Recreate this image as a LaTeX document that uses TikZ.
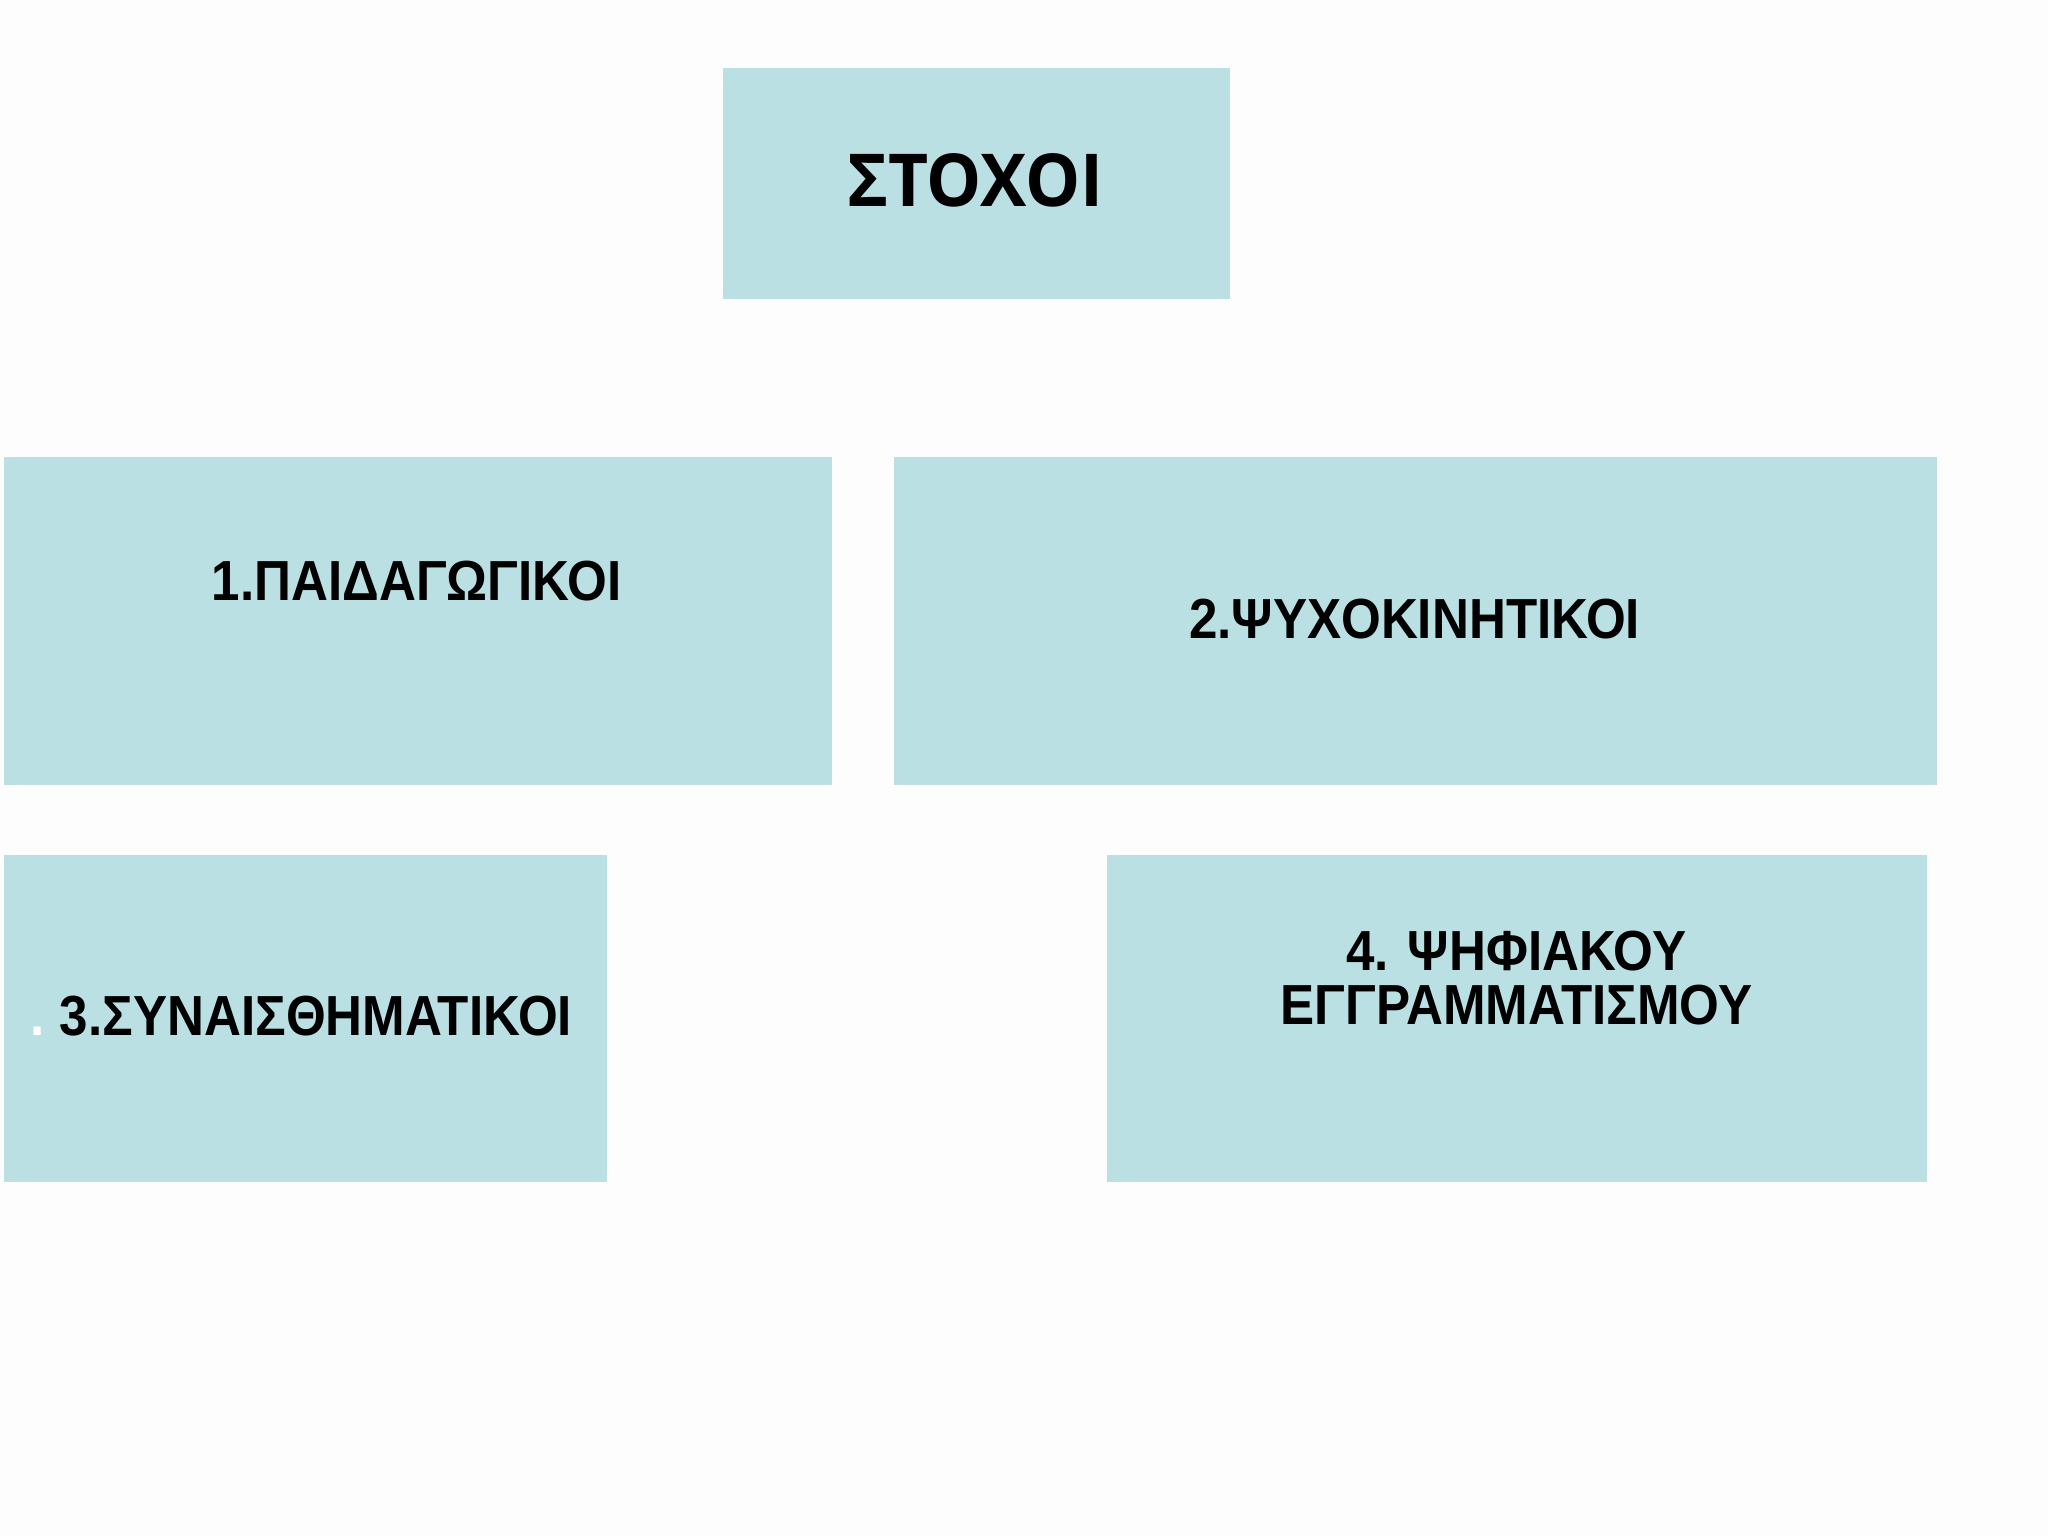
\documentclass[tikz,border=0pt]{standalone}
\usepackage{fontspec}
\setmainfont{Liberation Sans}
\newfontfamily\headfont{Open Sans}
\usetikzlibrary{positioning}
\definecolor{goalblue}{HTML}{BAE0E4}
\definecolor{pagewhite}{HTML}{FDFDFD}

\tikzset{
	goalbox/.style={fill=goalblue,inner sep=0pt,anchor=north west},
	goaltext/.style={font=\bfseries\fontsize{12.3}{11.7}\selectfont,xscale=0.905,inner sep=0pt,align=center},
}

\begin{document}
\begin{tikzpicture}[x=0.01cm,y=-0.01cm]
	\fill[pagewhite] (0,0) rectangle (1568,1176);

	\node (top) [goalbox,minimum width=3.88cm,minimum height=1.77cm] at (553,51) {};
	\node (one) [goalbox,minimum width=6.34cm,minimum height=2.51cm] at (2,349) {};
	\node (two) [goalbox,minimum width=7.98cm,minimum height=2.51cm] at (684,349) {};
	\node (three) [goalbox,minimum width=4.62cm,minimum height=2.50cm] at (2,654) {};
	\node (four) [goalbox,minimum width=6.27cm,minimum height=2.50cm] at (847,654) {};

	\node (toptxt) [anchor=base,inner sep=0pt,xscale=0.95,font=\headfont\bfseries\fontsize{15.9}{16}\selectfont] at (747,158) {ΣΤΟΧΟΙ};
	\node (onetxt) [goaltext,anchor=base] at (319,460) {1.ΠΑΙΔΑΓΩΓΙΚΟΙ};
	\node (twotxt) [goaltext,anchor=base] at (1083,489) {2.ΨΥΧΟΚΙΝΗΤΙΚΟΙ};
	\node (threetxt) [goaltext,anchor=base west] at (23,793) {{\color{white}.}\hspace{-1pt} 3.ΣΥΝΑΙΣΘΗΜΑΤΙΚΟΙ};
	\node (fourtxt) [goaltext] at (1161,749) {4. ΨΗΦΙΑΚΟΥ\\ΕΓΓΡΑΜΜΑΤΙΣΜΟΥ};
\end{tikzpicture}
\end{document}
